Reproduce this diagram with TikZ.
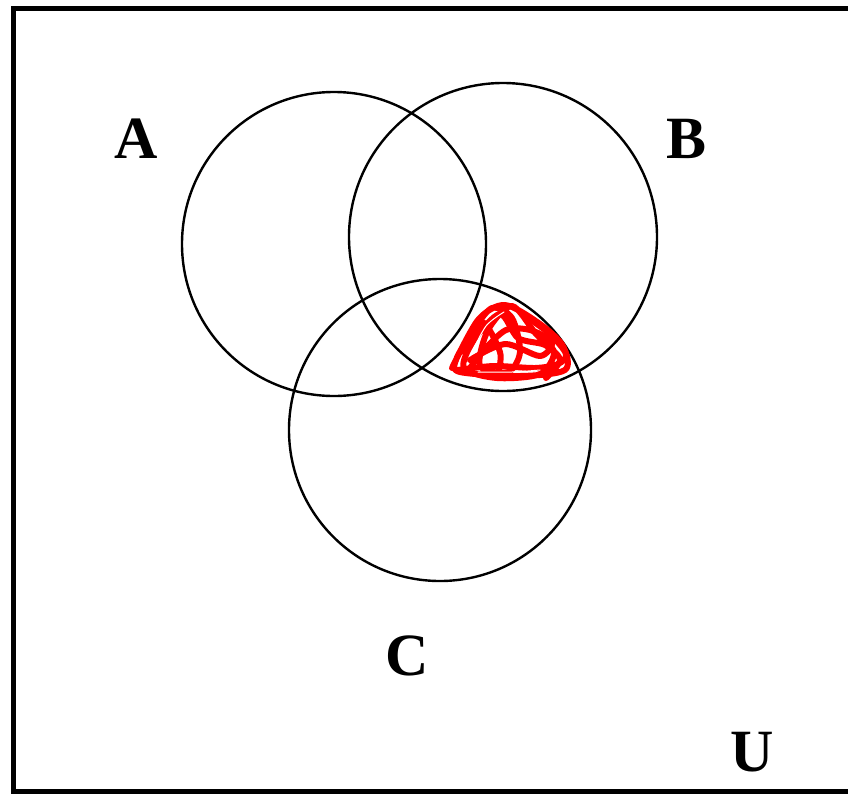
\documentclass[tikz,border=0pt]{standalone}
\usepackage{fontspec}
\setmainfont{Liberation Serif}
\usepackage{tikz}

\begin{document}
\begin{tikzpicture}[
  x=1pt,y=-1pt,
  set/.style={draw,circle,line width=2.4pt,inner sep=0pt},
  lbl/.style={font=\fontsize{60}{60}\selectfont\bfseries,inner sep=0pt},
  scrib/.style={red,line width=6pt,line join=round,line cap=round},
]
\useasboundingbox (0,0) rectangle (848,793);
\draw[line width=5pt] (13,8) rectangle (870,791);
% the three sets
\node[set,minimum size=304pt] (setA) at (334,244) {};
\node[set,minimum size=308pt] (setB) at (503,237) {};
\node[set,minimum size=302pt] (setC) at (440,430) {};
% labels
\node[lbl] (labA) at (136,139) {A};
\node[lbl] (labB) at (686,139) {B};
\node[lbl] (labC) at (407,656) {C};
\node[lbl] (labU) at (752,752) {U};
% shading of the B and C region
\draw[scrib] plot[smooth] coordinates {(452,368) (478,320) (505,305) (540,324) (563,346) (565,370) (520,376) (460,372) (456,360) (472,332) (492,308) (512,318) (520,352) (508,372) (480,366) (488,330) (512,306) (536,334) (554,352) (540,374) (497,378) (464,368) (474,340) (500,314) (518,338) (545,345) (560,360) (546,378)};
\draw[scrib] plot[smooth] coordinates {(458,370) (494,366) (535,368) (558,364) (566,354) (550,334) (528,318)};
\draw[scrib] plot[smooth] coordinates {(464,352) (482,322) (500,352) (498,374)};
\draw[scrib] plot[smooth] coordinates {(470,360) (505,344) (540,356) (552,342) (530,330) (506,330) (484,350) (470,368)};
\draw[white,line width=1pt,line cap=round] plot[smooth] coordinates {(470,356) (486,326) (504,312)};
\draw[white,line width=1pt,line cap=round] plot[smooth] coordinates {(478,372) (512,372) (540,370)};
\end{tikzpicture}
\end{document}
